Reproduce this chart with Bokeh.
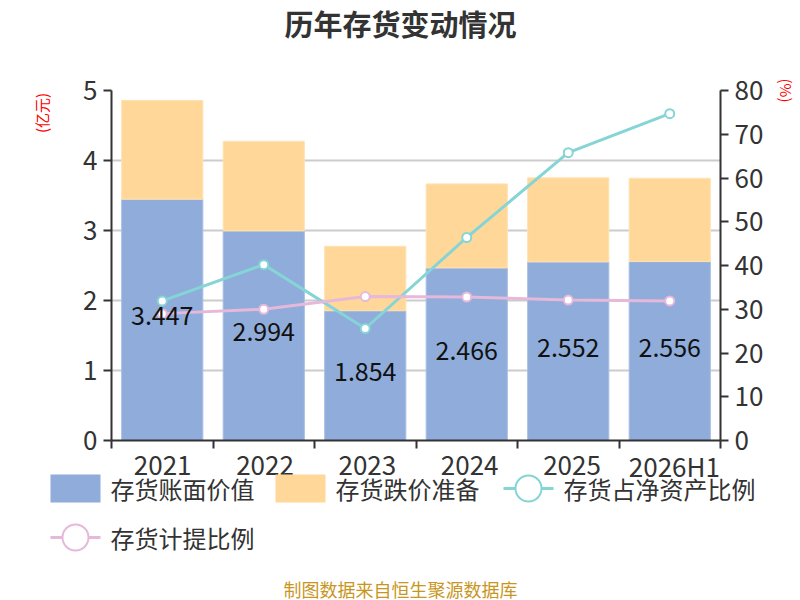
from bokeh.plotting import figure
from bokeh.layouts import column
from bokeh.models import (Range1d, LinearAxis, FixedTicker, Label, ColumnDataSource)
from bokeh.embed import file_html
from bokeh.resources import INLINE
from bokeh.core.properties import value

categories = ["2021", "2022", "2023", "2024", "2025", "2026H1"]
book_value = [3.447, 2.994, 1.854, 2.466, 2.552, 2.556]
provision = [1.41, 1.28, 0.92, 1.20, 1.20, 1.19]
share_net_assets = [31.9, 40.2, 25.6, 46.4, 65.8, 74.7]
provision_ratio = [29.0, 30.0, 32.9, 32.8, 32.1, 31.9]
left_ticks = [0, 1, 2, 3, 4, 5]
right_ticks = [0, 10, 20, 30, 40, 50, 60, 70, 80]
series_names = ["存货账面价值", "存货跌价准备", "存货占净资产比例", "存货计提比例"]

FONT = "Noto Sans CJK SC"
BLUE = "#8FACDA"
ORANGE = "#FFD899"
CYAN = "#85D4D6"
PINK = "#E6B8DA"
TXT = "#333333"

# layout constants (pixels)
W = 800
TOP_H = 44          # title strip
MID_H = 408         # chart strip (frame at page y 90..440)
BOT_H = 148         # category labels + legend + footer
FR_L, FR_R = 111, 75
PAGE_Y0 = TOP_H + MID_H

n = len(categories)
xs = [i + 0.5 for i in range(n)]
total = [b + q for b, q in zip(book_value, provision)]

src = ColumnDataSource(dict(
    x=xs, book=book_value, total=total,
    mid=[b / 2 for b in book_value],
    lab=[f"{b:.3f}" for b in book_value],
    share=share_net_assets, ratio=provision_ratio,
))


def no_align(f):
    if "frame_align" in f.properties():
        f.frame_align = False
    return f


# ---------- title strip ----------
top = figure(width=W, height=TOP_H, output_backend="svg", toolbar_location=None,
             x_axis_type=None, y_axis_type=None, min_border=0,
             x_range=Range1d(0, W), y_range=Range1d(0, TOP_H))
top.outline_line_color = None
no_align(top)
top.add_layout(Label(x=W / 2, y=TOP_H - 22, text="历年存货变动情况",
                     text_align="center", text_baseline="middle",
                     text_font=FONT, text_font_size="29px",
                     text_font_style="bold", text_color=TXT))

# ---------- chart ----------
p = figure(width=W, height=MID_H, output_backend="svg", toolbar_location=None,
           x_range=Range1d(0, n), y_range=Range1d(0, 5),
           min_border_left=FR_L, min_border_right=FR_R,
           min_border_top=90 - TOP_H, min_border_bottom=PAGE_Y0 - 440)
no_align(p)
p.extra_y_ranges = {"pct": Range1d(0, 80)}
p.outline_line_color = None
p.xgrid.visible = False
p.ygrid.grid_line_color = "#cccccc"
p.ygrid.grid_line_width = 2

p.vbar(x="x", width=0.8, bottom=0, top="book", source=src,
       fill_color=BLUE, line_color="#a9c0e4", line_width=1)
p.vbar(x="x", width=0.8, bottom="book", top="total", source=src,
       fill_color=ORANGE, line_color="#ffe2b3", line_width=1)
p.line("x", "share", source=src, y_range_name="pct",
       line_color=CYAN, line_width=3)
p.scatter("x", "share", source=src, y_range_name="pct", size=9,
          fill_color="white", line_color=CYAN, line_width=2)
p.line("x", "ratio", source=src, y_range_name="pct",
       line_color=PINK, line_width=3)
p.scatter("x", "ratio", source=src, y_range_name="pct", size=9,
          fill_color="white", line_color=PINK, line_width=2)
p.text("x", "mid", text="lab", source=src, text_align="center",
       text_baseline="middle", y_offset=-4, text_font=value(FONT),
       text_font_size="25px", text_color="#111111")

xa = p.xaxis[0]
xa.ticker = FixedTicker(ticks=xs, minor_ticks=list(range(n + 1)))
xa.major_label_overrides = {x: "" for x in xs}
xa.major_label_text_font_size = "1px"
xa.major_label_standoff = 0
xa.major_tick_out = 0
xa.major_tick_in = 0
xa.major_tick_line_color = None
xa.minor_tick_out = 8
xa.minor_tick_in = 0
xa.minor_tick_line_color = TXT
xa.minor_tick_line_width = 2
xa.axis_line_color = TXT
xa.axis_line_width = 2

PAD = "\u3000\u3000\u3000"
ya = p.yaxis[0]
ya.ticker = FixedTicker(ticks=left_ticks)
ya.axis_label = "(亿元)" + PAD
ya.axis_label_standoff = 28

ra = LinearAxis(y_range_name="pct", ticker=FixedTicker(ticks=right_ticks))
ra.axis_label = "(%)"
ra.axis_label_standoff = 10
p.add_layout(ra, "right")

for ax in [ya, ra]:
    ax.axis_line_color = TXT
    ax.axis_line_width = 2
    ax.major_tick_line_width = 2
    ax.major_tick_line_color = TXT
    ax.major_tick_out = 8
    ax.major_tick_in = 0
    ax.minor_tick_line_color = None
    ax.major_label_text_font = FONT
    ax.major_label_text_font_size = "26px"
    ax.major_label_text_color = TXT
    ax.major_label_standoff = 6
    ax.axis_label_text_color = "red"
    ax.axis_label_text_font_size = "15px"
    ax.axis_label_text_font_style = "normal"
    ax.axis_label_text_font = FONT
    if "axis_label_align" in ax.properties():
        ax.axis_label_align = "end"

# ---------- bottom strip: category labels, legend, footer ----------
band = (W - FR_L - FR_R) / n
bot = figure(width=W, height=BOT_H, output_backend="svg", toolbar_location=None,
             x_axis_type=None, y_axis_type=None, min_border=0,
             x_range=Range1d(-FR_L / band, n + FR_R / band),
             y_range=Range1d(0, BOT_H))
bot.outline_line_color = None
no_align(bot)


def dx(px):      # page x pixel -> bottom-strip data x
    return (px - FR_L) / band


def dy(py):      # page y pixel -> bottom-strip data y
    return BOT_H - (py - PAGE_Y0)


cat_src = ColumnDataSource(dict(x=xs, y=[dy(465)] * n, t=categories))
bot.text("x", "y", text="t", source=cat_src, text_align="center",
         text_baseline="middle", text_font=value(FONT),
         text_font_size="26px", text_color=TXT)

# legend (drawn as a key strip)
COL_X = [50, 275, 503, 50]       # left edge of each key, page px
ROW_Y = [488, 488, 488, 537]     # centre line of each key, page px
GW, GH, LS = 50, 28, 10
key_kind = ["box", "box", "line", "line"]
key_color = [BLUE, ORANGE, CYAN, PINK]

box_i = [i for i, k in enumerate(key_kind) if k == "box"]
line_i = [i for i, k in enumerate(key_kind) if k == "line"]
bot.rect(x=[dx(COL_X[i] + GW / 2) for i in box_i], y=[dy(ROW_Y[i]) for i in box_i],
         width=GW, height=GH, width_units="screen", height_units="screen",
         fill_color=[key_color[i] for i in box_i], line_color=None)
bot.segment(x0=[dx(COL_X[i]) for i in line_i], y0=[dy(ROW_Y[i]) for i in line_i],
            x1=[dx(COL_X[i] + GW) for i in line_i], y1=[dy(ROW_Y[i]) for i in line_i],
            line_color=[key_color[i] for i in line_i], line_width=3)
bot.scatter(x=[dx(COL_X[i] + GW / 2) for i in line_i], y=[dy(ROW_Y[i]) for i in line_i],
            size=26, fill_color="white",
            line_color=[key_color[i] for i in line_i], line_width=2)
bot.text(x=[dx(c + GW + LS) for c in COL_X], y=[dy(r) for r in ROW_Y],
         text=series_names, text_align="left", text_baseline="middle",
         text_font=value(FONT), text_font_size="24px", text_color=TXT)

bot.add_layout(Label(x=dx(400), y=dy(588),
                     text="制图数据来自恒生聚源数据库", text_align="center",
                     text_baseline="middle", text_font=FONT,
                     text_font_size="18px", text_color="#C8961E"))

layout = column(top, p, bot, spacing=0)
open("out.html", "w").write(file_html(layout, INLINE))
